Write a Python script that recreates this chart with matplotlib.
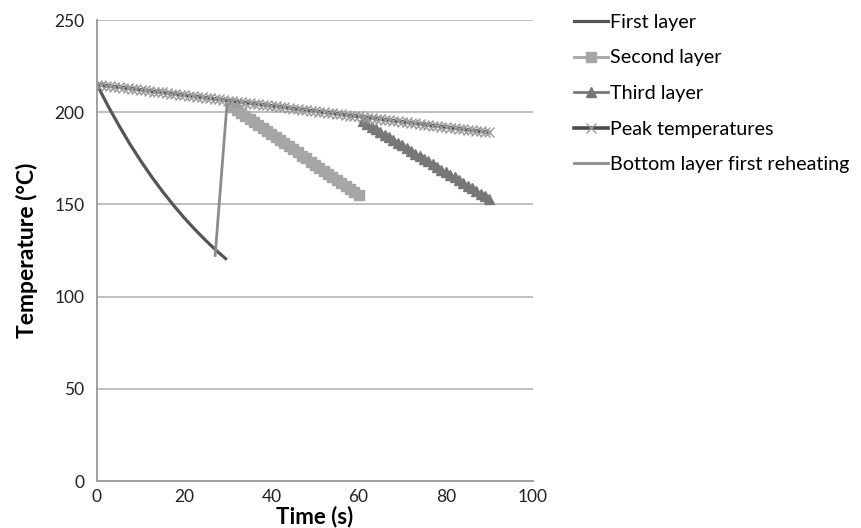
import numpy as np
import matplotlib.pyplot as plt

plt.rcParams['font.family'] = ['Lato', 'DejaVu Sans']

# First layer cooling curve
t_first = [0, 2.5, 5, 7.5, 10, 12.5, 15, 17.5, 20, 22.5, 25, 27.5, 29.5]
T_first = [215, 203.5, 192.9, 182.9, 173.7, 165.1, 157.1, 149.7, 142.7, 136.3, 130.3, 124.7, 120.6]

# Second layer
t_second = np.arange(31, 61)
T_second = [203.0, 201.3, 199.7, 198.0, 196.4, 194.7, 193.1, 191.4, 189.8, 188.1,
            186.4, 184.8, 183.1, 181.5, 179.8, 178.2, 176.5, 174.9, 173.2, 171.6,
            169.9, 168.2, 166.6, 164.9, 163.3, 161.6, 160.0, 158.3, 156.7, 155.0]

# Third layer
t_third = np.arange(61, 91)
T_third = [195.0, 193.6, 192.1, 190.7, 189.2, 187.8, 186.3, 184.9, 183.4, 182.0,
           180.5, 179.1, 177.6, 176.2, 174.7, 173.3, 171.8, 170.4, 168.9, 167.5,
           166.0, 164.6, 163.1, 161.7, 160.2, 158.8, 157.3, 155.9, 154.4, 153.0]

# Peak temperatures
t_peak = np.arange(0, 91)
T_peak = [215.0, 214.7, 214.4, 214.1, 213.8, 213.6, 213.3, 213.0, 212.7, 212.4,
          212.1, 211.8, 211.5, 211.2, 211.0, 210.7, 210.4, 210.1, 209.8, 209.5,
          209.2, 208.9, 208.6, 208.4, 208.1, 207.8, 207.5, 207.2, 206.9, 206.6,
          206.3, 206.0, 205.8, 205.5, 205.2, 204.9, 204.6, 204.3, 204.0, 203.7,
          203.4, 203.2, 202.9, 202.6, 202.3, 202.0, 201.7, 201.4, 201.1, 200.8,
          200.6, 200.3, 200.0, 199.7, 199.4, 199.1, 198.8, 198.5, 198.2, 198.0,
          197.7, 197.4, 197.1, 196.8, 196.5, 196.2, 195.9, 195.6, 195.3, 195.1,
          194.8, 194.5, 194.2, 193.9, 193.6, 193.3, 193.0, 192.7, 192.5, 192.2,
          191.9, 191.6, 191.3, 191.0, 190.7, 190.4, 190.1, 189.9, 189.6, 189.3,
          189.0]

# Bottom layer first reheating
t_reheat = [27.1, 29.8]
T_reheat = [122.3, 204.0]

fig = plt.figure(figsize=(8.61, 5.28), dpi=100)
ax = fig.add_axes([97 / 861, 47 / 528, 436 / 861, 461 / 528])

ax.plot(t_first, T_first, color='#555555', lw=2.3, label='First layer')
ax.plot(t_second, T_second, color='#a6a6a6', lw=2, marker='s', ms=6.5,
        mec='#a6a6a6', label='Second layer')
ax.plot(t_third, T_third, color='#777777', lw=2, marker='^', ms=7,
        mec='#777777', label='Third layer')
ax.plot(t_peak, T_peak, color='#4a4a4a', lw=2.6, marker='x', ms=6.5, mew=1,
        mec='#9a9a9a', label='Peak temperatures')
ax.plot(t_reheat, T_reheat, color='#8c8c8c', lw=2,
        label='Bottom layer first reheating')

ax.set_xlim(0, 100)
ax.set_ylim(0, 250)
ax.set_xticks([0, 20, 40, 60, 80, 100])
ax.set_yticks([0, 50, 100, 150, 200, 250])
ax.yaxis.grid(True, color='#bfbfbf', lw=1.4)
ax.set_axisbelow(True)
for s in ['top', 'right']:
    ax.spines[s].set_visible(False)
for s in ['left', 'bottom']:
    ax.spines[s].set_color('#a0a0a0')
    ax.spines[s].set_linewidth(1.4)
ax.tick_params(length=0, labelsize=12.5, colors='#222222')
ax.tick_params(axis='y', pad=9)
ax.tick_params(axis='x', pad=6)

ax.set_xlabel('Time (s)', fontsize=16, fontweight='bold')
ax.set_ylabel('Temperature (°C)', fontsize=16.5, fontweight='bold')
ax.xaxis.set_label_coords(0.5, -0.054)
ax.yaxis.set_label_coords(-0.135, 0.5)

fig.legend(loc='upper left', bbox_to_anchor=(566 / 861, 1 - 6 / 528),
           frameon=False, fontsize=14.2, handlelength=1.75, handletextpad=0.1,
           labelspacing=0.94, borderaxespad=0)

fig.savefig('out.png', dpi=100)
